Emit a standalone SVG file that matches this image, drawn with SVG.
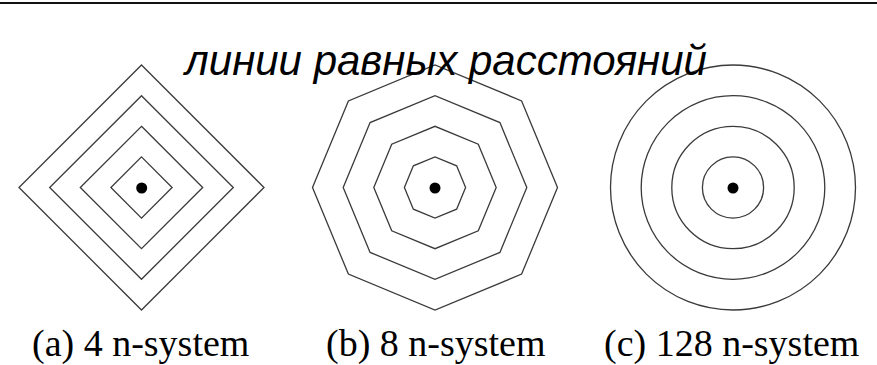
<svg xmlns="http://www.w3.org/2000/svg" width="877" height="365" viewBox="0 0 877 365">
<style>
.ln{fill:none;stroke:#3a3a3a;stroke-width:1.3}
.dot{fill:#000}
.title{font-family:"Liberation Sans",Arial,sans-serif;font-style:italic;font-size:42px;fill:#000}
.lbl{font-family:"Liberation Serif","Times New Roman",serif;font-size:38px;fill:#000}
</style>
<rect width="877" height="365" fill="#fff"/>
<line x1="0" y1="3" x2="877" y2="3" stroke="#111" stroke-width="2.2"/>
<g id="fig-a">
<polygon class="ln" points="141.5,65 264,187.5 141.5,310 19,187.5"/>
<polygon class="ln" points="141.5,95.7 233.3,187.5 141.5,279.3 49.7,187.5"/>
<polygon class="ln" points="141.5,126.3 202.7,187.5 141.5,248.7 80.3,187.5"/>
<polygon class="ln" points="141.5,156.9 172.1,187.5 141.5,218.1 110.9,187.5"/>
<circle class="dot" cx="141.7" cy="188" r="5.5"/>
</g>
<g id="fig-b">
<polygon class="ln" points="557.5,187.5 521.62,274.12 435,310 348.38,274.12 312.5,187.5 348.38,100.88 435,65 521.62,100.88"/>
<polygon class="ln" points="526.8,187.5 499.91,252.41 435,279.3 370.09,252.41 343.2,187.5 370.09,122.59 435,95.7 499.91,122.59"/>
<polygon class="ln" points="496.2,187.5 478.27,230.77 435,248.7 391.73,230.77 373.8,187.5 391.73,144.23 435,126.3 478.27,144.23"/>
<polygon class="ln" points="465.6,187.5 456.64,209.14 435,218.1 413.36,209.14 404.4,187.5 413.36,165.86 435,156.9 456.64,165.86"/>
<circle class="dot" cx="435" cy="188" r="5.5"/>
</g>
<g id="fig-c">
<circle class="ln" cx="733" cy="187.5" r="122.5"/>
<circle class="ln" cx="733" cy="187.5" r="91.8"/>
<circle class="ln" cx="733" cy="187.5" r="61.2"/>
<circle class="ln" cx="733" cy="187.5" r="30.6"/>
<circle class="dot" cx="733" cy="188" r="5.5"/>
</g>
<text class="title" x="446" y="75" text-anchor="middle">линии равных расстояний</text>
<text class="lbl" x="32" y="356">(a) 4 n-system</text>
<text class="lbl" x="326" y="356">(b) 8 n-system</text>
<text class="lbl" x="604" y="356">(c) 128 n-system</text>
</svg>
